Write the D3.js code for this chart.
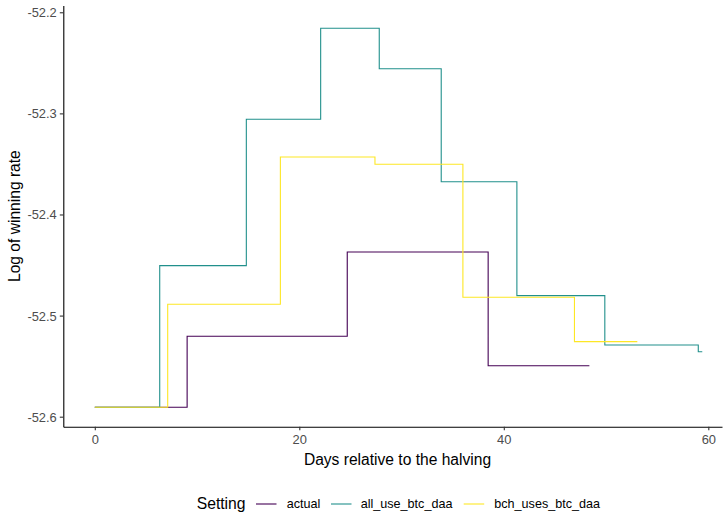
<!DOCTYPE html>
<html>
<head>
<meta charset="utf-8">
<script src="https://cdn.jsdelivr.net/npm/d3@7"></script>
<style>
  body { margin: 0; background: #fff; }
  svg text { font-family: "Liberation Sans", Arial, sans-serif; }
</style>
</head>
<body>
<script>
// step series (day, log winning rate)
const settings = ["actual", "all_use_btc_daa", "bch_uses_btc_daa"];
const colors = ["#440154", "#21908C", "#FDE725"];

const actualDays = [0, 9.03, 24.69, 38.47, 48.37];
const actualVals = [-52.5907, -52.5205, -52.4371, -52.5496, -52.5496];

const allUseDays = [0, 6.35, 14.82, 22.09, 27.82, 33.88, 41.28, 49.88, 59.02, 59.41];
const allUseVals = [-52.5907, -52.4506, -52.3058, -52.2158, -52.2558, -52.3676, -52.4803, -52.5291, -52.5357, -52.5357];

const bchDays = [0, 7.13, 18.15, 27.40, 36.0, 46.91, 53.06];
const bchVals = [-52.5907, -52.4888, -52.3431, -52.3503, -52.4819, -52.5258, -52.5258];

const xTicks = [0, 20, 40, 60];
const yTicks = [-52.6, -52.5, -52.4, -52.3, -52.2];

window.onload = function() {
  const w = 728;
  const h = 516;
  const left = 63.3, right = 722, top = 5.5, bottom = 426.7;

  let svg = d3.select("body")
            .append("svg")
            .attr("width", w)
            .attr("height", h);

  let xScale = d3.scaleLinear()
            .domain([-3.08, 61.34])
            .range([left, right]);
  let yScale = d3.scaleLinear()
            .domain([-52.6099, -52.1933])
            .range([bottom, top]);

  let series = [
    {name: settings[0], days: actualDays, vals: actualVals},
    {name: settings[1], days: allUseDays, vals: allUseVals},
    {name: settings[2], days: bchDays, vals: bchVals}
  ];

  let line = d3.line()
            .x(function(d) { return xScale(d[0]); })
            .y(function(d) { return yScale(d[1]); })
            .curve(d3.curveStepAfter);

  series.forEach(function(s, i) {
    let pts = s.days.map(function(d, j) { return [d, s.vals[j]]; });
    svg.append("path")
       .datum(pts)
       .attr("fill", "none")
       .attr("stroke", colors[i])
       .attr("stroke-width", 1.1)
       .attr("d", line);
  });

  // axes
  let xAxis = d3.axisBottom(xScale).tickValues(xTicks).tickSize(3.5).tickPadding(3).tickSizeOuter(0);
  let yAxis = d3.axisLeft(yScale).tickValues(yTicks).tickSize(3.5).tickPadding(3).tickSizeOuter(0)
            .tickFormat(function(d) { return d.toFixed(1); });

  let gx = svg.append("g")
     .attr("transform", "translate(0," + bottom + ")")
     .call(xAxis);
  let gy = svg.append("g")
     .attr("transform", "translate(" + left + ",0)")
     .call(yAxis);

  [gx, gy].forEach(function(g) {
    g.select(".domain").attr("stroke", "#000").attr("stroke-width", 1.1);
    g.selectAll(".tick line").attr("stroke", "#333").attr("stroke-width", 1.1);
    g.selectAll(".tick text")
     .attr("fill", "#4d4d4d")
     .style("font-size", "12.9px")
     .style("font-family", "Liberation Sans, Arial, sans-serif");
  });
  gx.selectAll(".tick text").attr("dy", "0.85em");
  gy.selectAll(".tick text").attr("dy", "0.35em");

  // axes labels
  svg.append("text")
     .attr("x", 397.5)
     .attr("y", 465)
     .style("text-anchor", "middle")
     .style("font-size", "15.6px")
     .text("Days relative to the halving");
  svg.append("text")
     .attr("transform", "rotate(-90)")
     .attr("x", -(top + bottom) / 2)
     .attr("y", 19.5)
     .style("text-anchor", "middle")
     .style("font-size", "15.6px")
     .text("Log of winning rate");

  // legend
  let ly = 504;
  svg.append("text")
     .attr("x", 196.7)
     .attr("y", ly)
     .attr("dy", "0.35em")
     .style("font-size", "15.7px")
     .text("Setting");
  let keyX = [256, 331, 463.7];
  let labX = [286.7, 360.7, 494.3];
  settings.forEach(function(name, i) {
    svg.append("line")
       .attr("x1", keyX[i]).attr("x2", keyX[i] + 20.5)
       .attr("y1", ly).attr("y2", ly)
       .attr("stroke", colors[i])
       .attr("stroke-width", 1.1);
    svg.append("text")
       .attr("x", labX[i])
       .attr("y", ly)
       .attr("dy", "0.35em")
       .style("font-size", "12.6px")
       .text(name);
  });
}
</script>
</body>
</html>
